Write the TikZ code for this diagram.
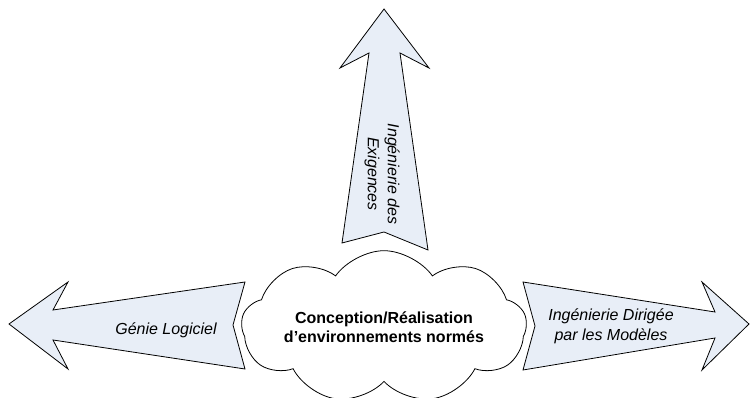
\documentclass[tikz,border=0pt]{standalone}
\usepackage{fontspec}
\setmainfont{Liberation Sans}
\usetikzlibrary{shapes.symbols}

\definecolor{arrowfill}{RGB}{232,238,247}

\tikzset{every picture/.style={line width=0.75pt}}
\tikzset{
  blockarrow/.style={draw=black, fill=arrowfill, line width=0.6pt, line join=miter},
  arrowlabel/.style={inner sep=0.75pt, align=center, font=\fontsize{12}{15}\selectfont\itshape},
  centrecloud/.style={cloud, cloud puffs=9, cloud puff arc=110, aspect=2.6, draw=black, fill=white,
    line width=0.6pt, minimum width=196pt, minimum height=84pt, inner sep=0pt,
    align=center, font=\fontsize{12}{14.5}\selectfont\bfseries}
}

\begin{document}
\begin{tikzpicture}[x=0.75pt,y=0.75pt,yscale=-1,xscale=1]
    \useasboundingbox (0,0) rectangle (750,398);

    %Shape: Up Arrow [id:exig]
    \draw [blockarrow] (384,9) -- (429,68) -- (400,53) -- (428,250) -- (384,232) -- (342,243) -- (369,53) -- (340,68) -- cycle ;
    %Shape: Left Arrow [id:genie]
    \draw [blockarrow] (9,324) -- (68,282) -- (53,310) -- (245,282) -- (233,325) -- (245,369) -- (53,340) -- (68,369) -- cycle ;
    %Shape: Right Arrow [id:idm]
    \draw [blockarrow] (523,282) -- (715,312) -- (702,282) -- (749,324) -- (702,370) -- (715,338) -- (523,370) -- (535,326) -- cycle ;

    %Shape: Cloud [id:conception]
    \node [centrecloud] (conception) at (384,327) {Conception/Réalisation\\d’environnements normés};

    % Text Node
    \node [arrowlabel, rotate=-90] (exigLabel) at (382,174) {Ingénierie des\\Exigences};
    % Text Node
    \node [arrowlabel] (genieLabel) at (166,330) {Génie Logiciel};
    % Text Node
    \node [arrowlabel] (idmLabel) at (611,326) {Ingénierie Dirigée\\par les Modèles};

\end{tikzpicture}
\end{document}
